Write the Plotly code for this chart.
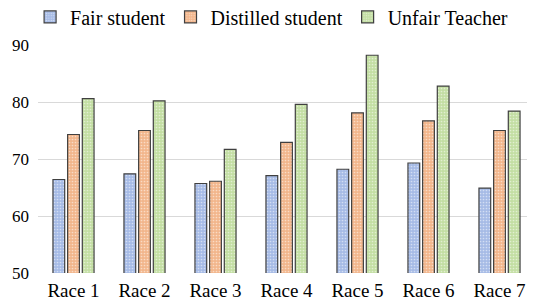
import plotly.graph_objects as go

categories = ["Race 1", "Race 2", "Race 3", "Race 4", "Race 5", "Race 6", "Race 7"]
fair_student = [66.4, 67.4, 65.7, 67.1, 68.2, 69.3, 64.9]
distilled_student = [74.3, 75.0, 66.1, 72.9, 78.1, 76.7, 75.0]
unfair_teacher = [80.6, 80.2, 71.7, 79.6, 88.2, 82.8, 78.4]

series = [
    ("Fair student", fair_student, "#a6bbe6"),
    ("Distilled student", distilled_student, "#f2b68c"),
    ("Unfair Teacher", unfair_teacher, "#c3dea3"),
]

fig = go.Figure()
for name, vals, col in series:
    fig.add_trace(go.Bar(
        x=categories, y=vals, name=name,
        marker=dict(color=col, line=dict(color="#404040", width=1.2),
                    pattern=dict(shape=".", fgcolor="white", size=3, solidity=0.25)),
    ))

font = "Liberation Serif, Times New Roman, serif"
fig.update_layout(
    width=527, height=297,
    margin=dict(l=30, r=0, t=37, b=32, autoexpand=False),
    paper_bgcolor="white", plot_bgcolor="white",
    barmode="group", bargap=0.38, bargroupgap=0.2,
    font=dict(family=font, size=16, color="black"),
    legend=dict(orientation="h", x=0.47, xanchor="center", y=0.97, yanchor="middle",
                yref="container", font=dict(size=20, family=font),
                itemwidth=30, tracegroupgap=0, bgcolor="rgba(0,0,0,0)",
                borderwidth=0),
    showlegend=True,
    xaxis=dict(showgrid=False, showline=False, ticks="", tickfont=dict(size=19),
               ticklabelstandoff=4),
    yaxis=dict(range=[50, 90], dtick=10, showgrid=True, gridcolor="#d9d9d9",
               gridwidth=1, zeroline=False, showline=False, ticks="",
               tickfont=dict(size=17), ticklabelstandoff=8),
)
fig.write_html("out.html")
